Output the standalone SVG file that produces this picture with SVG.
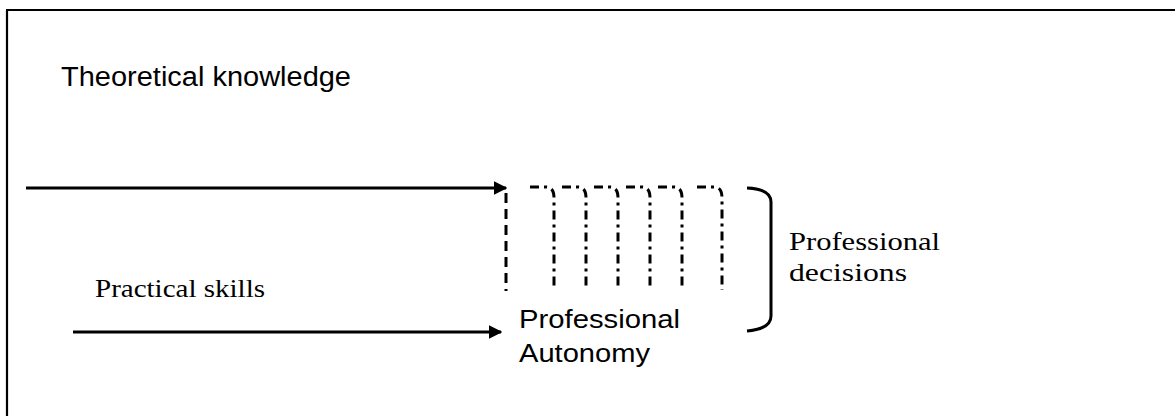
<svg xmlns="http://www.w3.org/2000/svg" width="1176" height="416" viewBox="0 0 1176 416">
  <style>
    .sans { font-family: "Liberation Sans", Arial, sans-serif; fill: #000; }
    .serif { font-family: "Liberation Serif", "Times New Roman", serif; fill: #000; }
    .arrow { stroke: #000; stroke-width: 3; fill: none; }
    .dash { stroke: #000; stroke-width: 3; fill: none; stroke-dasharray: 10 6; }
    .dashdot { stroke: #000; stroke-width: 3; fill: none; stroke-dasharray: 9 5 3 5; }
  </style>
  <defs>
    <marker id="head" viewBox="0 0 10 10" refX="9" refY="5" markerWidth="4.6" markerHeight="4.6" orient="auto" markerUnits="strokeWidth">
      <path d="M0 0 L10 5 L0 10 Z" fill="#000"/>
    </marker>
  </defs>
  <rect width="1176" height="416" fill="#fff"/>

  <!-- frame: top and left edges -->
  <g id="frame" stroke="#000" stroke-width="2.2" fill="none">
    <line x1="6" y1="10" x2="1175" y2="10"/>
    <line x1="7" y1="10" x2="7" y2="416"/>
  </g>

  <g id="theory">
    <text class="sans" x="61" y="86" font-size="27" textLength="290" lengthAdjust="spacingAndGlyphs">Theoretical knowledge</text>
  </g>

  <g id="practice">
    <text class="serif" x="95" y="297" font-size="26" textLength="170" lengthAdjust="spacingAndGlyphs">Practical skills</text>
  </g>

  <g id="autonomy">
    <text class="sans" x="519" y="328" font-size="26" textLength="161" lengthAdjust="spacingAndGlyphs">Professional</text>
    <text class="sans" x="519" y="362" font-size="26" textLength="131" lengthAdjust="spacingAndGlyphs">Autonomy</text>
  </g>

  <g id="decisions">
    <path d="M747 188 Q771 189 771 202 V316 Q771 329 747 331" stroke="#000" stroke-width="3" fill="none"/>
    <text class="serif" x="789" y="250" font-size="26" textLength="151" lengthAdjust="spacingAndGlyphs">Professional</text>
    <text class="serif" x="789" y="281" font-size="26" textLength="118" lengthAdjust="spacingAndGlyphs">decisions</text>
  </g>

  <!-- connectors -->
  <g id="connectors">
    <line class="arrow" x1="26" y1="188" x2="506" y2="188" marker-end="url(#head)"/>
    <line class="arrow" x1="73" y1="332" x2="501" y2="332" marker-end="url(#head)"/>
    <line class="dash" x1="506" y1="193" x2="506" y2="291"/>
    <path class="dashdot" d="M530 187 H546 Q554 187 554 198 V290"/>
    <path class="dashdot" d="M562 187 H578 Q586 187 586 198 V290"/>
    <path class="dashdot" d="M594 187 H610 Q618 187 618 198 V290"/>
    <path class="dashdot" d="M626 187 H642 Q650 187 650 198 V290"/>
    <path class="dashdot" d="M658 187 H674 Q682 187 682 198 V290"/>
    <path class="dashdot" d="M697 187 H714 Q722 187 722 198 V290"/>
  </g>
</svg>
